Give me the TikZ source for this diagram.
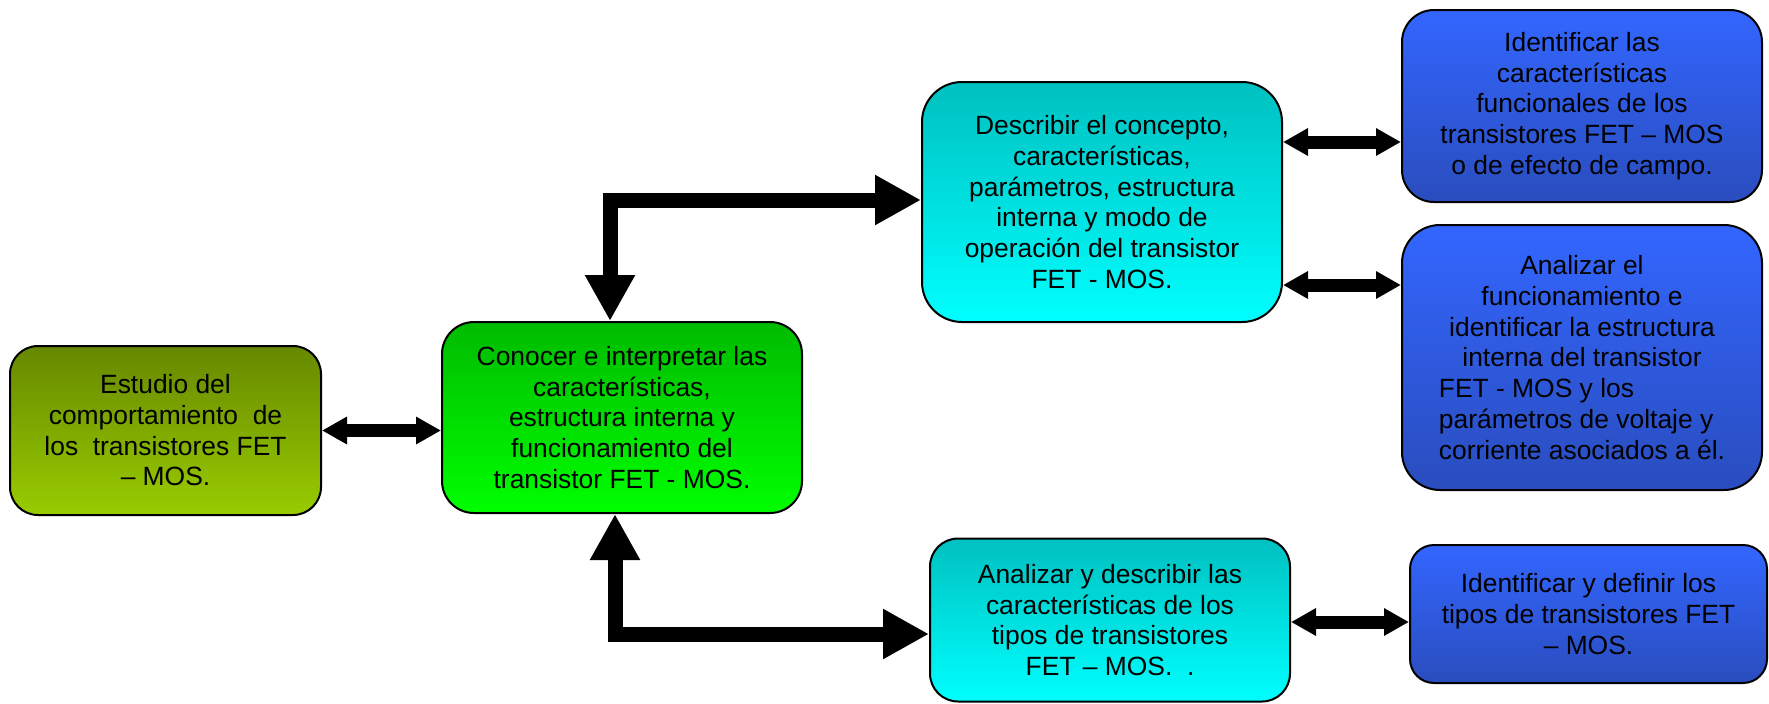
\documentclass[tikz,border=0pt]{standalone}
\usepackage{fontspec}
\setmainfont{Liberation Sans}
\usepackage{calc}
\usetikzlibrary{arrows.meta}
\definecolor{oliveTop}{HTML}{668800}
\definecolor{oliveBot}{HTML}{99CC00}
\definecolor{greenTop}{HTML}{00BB00}
\definecolor{greenBot}{HTML}{00FF00}
\definecolor{cyanTop}{HTML}{00C0C0}
\definecolor{cyanBot}{HTML}{00FFFF}
\definecolor{blueTop}{HTML}{3366FF}
\definecolor{blueBot}{HTML}{2A4DBE}
\newcommand\Fline[1]{\makebox[\widthof{corriente asociados a él.}][l]{#1}}
\begin{document}
\begin{tikzpicture}[x=0.5pt,y=-0.5pt,
  box/.style={draw=black, line width=1pt, rectangle, inner sep=0pt, align=center,
    font=\fontsize{13.2}{15.35}\selectfont, text=black},
  olivebox/.style={box, top color=oliveTop, bottom color=oliveBot},
  greenbox/.style={box, top color=greenTop, bottom color=greenBot},
  cyanbox/.style={box, top color=cyanTop, bottom color=cyanBot},
  bluebox/.style={box, top color=blueTop, bottom color=blueBot},
  dbl/.style={line width=6.5pt, {Triangle[length=12.5pt,width=13pt]}-{Triangle[length=12.5pt,width=13pt]}},
  elbow/.style={line width=7.5pt, line join=miter, {Triangle[length=23pt,width=23.5pt]}-{Triangle[length=23pt,width=23.5pt]}},
]
\useasboundingbox (0,0) rectangle (1769,703);

\node[olivebox, minimum width=155.5pt, minimum height=84.5pt, rounded corners=14pt] (A) at (165.5,430.5)
  {Estudio del\\comportamiento\ \ de\\los\ \ transistores FET\\– MOS.};
\node[greenbox, minimum width=180pt, minimum height=95.5pt, rounded corners=16pt] (B) at (622,417.5)
  {Conocer e interpretar las\\características,\\estructura interna y\\funcionamiento del\\transistor FET - MOS.};
\node[cyanbox, minimum width=180pt, minimum height=120pt, rounded corners=20pt] (C) at (1102,202)
  {Describir el concepto,\\características,\\parámetros, estructura\\interna y modo de\\operación del transistor\\FET - MOS.};
\node[cyanbox, minimum width=180pt, minimum height=81.5pt, rounded corners=14pt] (D) at (1110,620)
  {Analizar y describir las\\características de los\\tipos de transistores\\FET – MOS.\ \ .};
\node[bluebox, minimum width=180pt, minimum height=96pt, rounded corners=16pt] (E) at (1582,106)
  {Identificar las\\características\\funcionales de los\\transistores FET – MOS\\o de efecto de campo.};
\node[bluebox, minimum width=180pt, minimum height=132.5pt, rounded corners=19pt] (F) at (1582,357.5)
  {Analizar el\\funcionamiento e\\identificar la estructura\\interna del transistor\\\Fline{FET - MOS y los}\\\Fline{parámetros de voltaje y}\\\Fline{corriente asociados a él.}};
\node[bluebox, minimum width=178.5pt, minimum height=69pt, rounded corners=12pt] (G) at (1588.5,614)
  {Identificar y definir los\\tipos de transistores FET\\– MOS.};

% double arrows
\draw[dbl] (A.east) -- (A.east -| B.west);
\coordinate (c3) at ([yshift=30pt]C.east);
\draw[dbl] (c3) -- (c3 -| E.west);
\coordinate (c4) at ([yshift=-41.5pt]C.east);
\draw[dbl] (c4) -- (c4 -| F.west);
\coordinate (d3) at ([yshift=-1pt]D.east);
\draw[dbl] (d3) -- (d3 -| G.west);

% elbow arrows
\coordinate (b1) at ([xshift=-6pt]B.north);
\coordinate (c2) at ([yshift=1pt]C.west);
\draw[elbow] (b1) |- (c2);
\coordinate (b2) at ([xshift=-3.5pt]B.south);
\coordinate (d2) at ([yshift=-7pt]D.west);
\draw[elbow] (b2) |- (d2);
\end{tikzpicture}
\end{document}
